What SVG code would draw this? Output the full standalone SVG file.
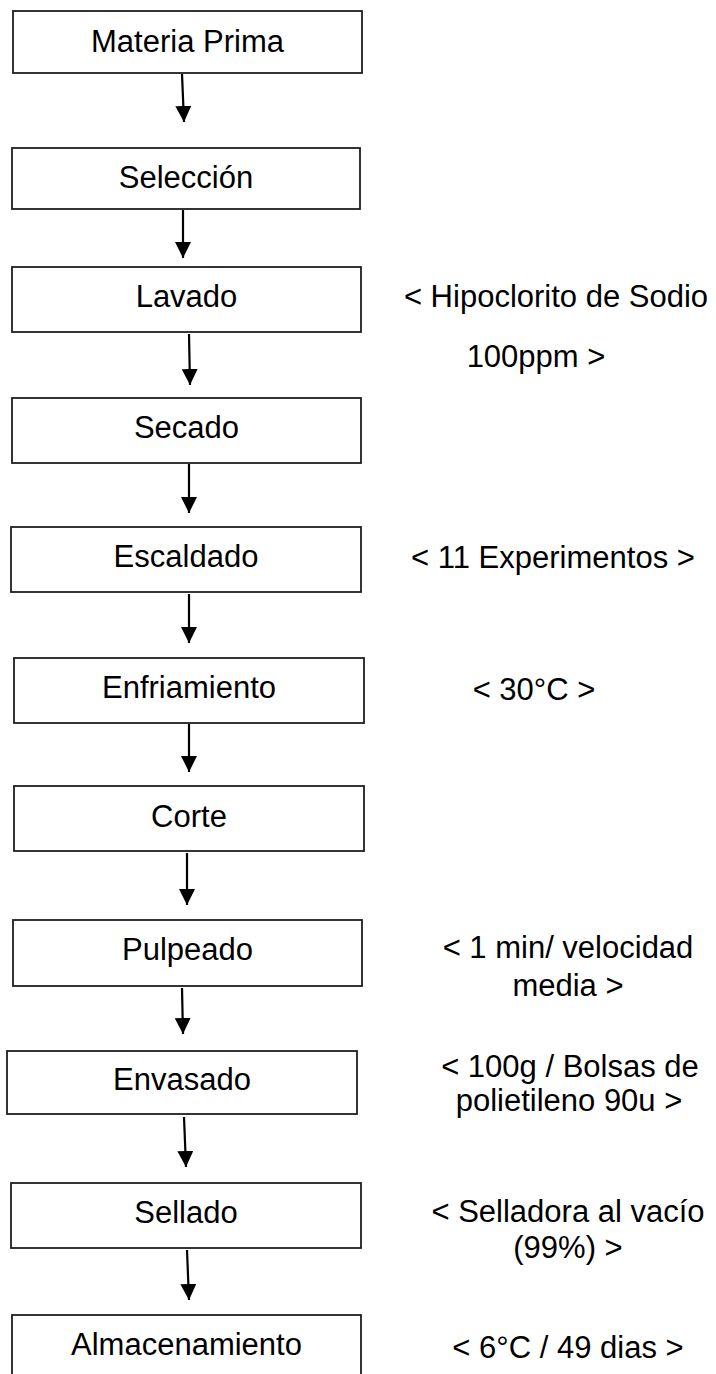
<svg xmlns="http://www.w3.org/2000/svg" width="716" height="1374" viewBox="0 0 716 1374">
<style>
.box{fill:#fff;stroke:#1e1e1e;stroke-width:1.8}
.t{font-family:"Liberation Sans",Arial,sans-serif;font-size:31px;fill:#000;text-anchor:middle}
.c{stroke:#000;stroke-width:2.2;fill:none;marker-end:url(#ah)}
</style>
<defs>
<marker id="ah" markerUnits="userSpaceOnUse" markerWidth="16" markerHeight="16" refX="16" refY="8" orient="auto">
<path d="M0,0 L16,8 L0,16 z" fill="#000"/>
</marker>
</defs>
<rect width="716" height="1374" fill="#fff"/>
<g id="connectors">
<path class="c" d="M182,74 L184,122"/>
<path class="c" d="M183,210 L183,258"/>
<path class="c" d="M189,334 L190,385"/>
<path class="c" d="M189,464 L189,513"/>
<path class="c" d="M189,594 L189,643"/>
<path class="c" d="M189,724 L189,772"/>
<path class="c" d="M187,853 L187,905"/>
<path class="c" d="M182,988 L183,1034"/>
<path class="c" d="M184,1117 L186,1167"/>
<path class="c" d="M187,1250 L189,1300"/>
</g>
<g id="n1"><rect class="box" x="13" y="11" width="349" height="62"/><text class="t" x="187.5" y="52">Materia Prima</text></g>
<g id="n2"><rect class="box" x="12" y="148" width="348" height="61"/><text class="t" x="186" y="188">Selección</text></g>
<g id="n3"><rect class="box" x="12" y="267" width="349" height="65"/><text class="t" x="186.5" y="307">Lavado</text></g>
<g id="n4"><rect class="box" x="12" y="398" width="349" height="65"/><text class="t" x="186.5" y="438">Secado</text></g>
<g id="n5"><rect class="box" x="11" y="527" width="350" height="65"/><text class="t" x="186" y="567">Escaldado</text></g>
<g id="n6"><rect class="box" x="14" y="658" width="350" height="65"/><text class="t" x="189" y="698">Enfriamiento</text></g>
<g id="n7"><rect class="box" x="14" y="786" width="350" height="65"/><text class="t" x="189" y="827">Corte</text></g>
<g id="n8"><rect class="box" x="13" y="920" width="349" height="66"/><text class="t" x="187.5" y="960">Pulpeado</text></g>
<g id="n9"><rect class="box" x="7" y="1051" width="350" height="63"/><text class="t" x="182" y="1090">Envasado</text></g>
<g id="n10"><rect class="box" x="11" y="1183" width="350" height="65"/><text class="t" x="186" y="1223">Sellado</text></g>
<g id="n11"><rect class="box" x="12" y="1315" width="349" height="70"/><text class="t" x="186.5" y="1355">Almacenamiento</text></g>
<g id="notes">
<text class="t" x="556" y="307">&lt; Hipoclorito de Sodio</text>
<text class="t" x="536" y="367">100ppm &gt;</text>
<text class="t" x="553" y="568">&lt; 11 Experimentos &gt;</text>
<text class="t" x="534" y="700">&lt; 30°C &gt;</text>
<text class="t" x="568" y="958">&lt; 1 min/ velocidad</text>
<text class="t" x="568" y="996">media &gt;</text>
<text class="t" x="570" y="1077">&lt; 100g / Bolsas de</text>
<text class="t" x="569" y="1111">polietileno 90u &gt;</text>
<text class="t" x="568" y="1222">&lt; Selladora al vacío</text>
<text class="t" x="568" y="1258">(99%) &gt;</text>
<text class="t" x="568" y="1358">&lt; 6°C / 49 dias &gt;</text>
</g>
</svg>
